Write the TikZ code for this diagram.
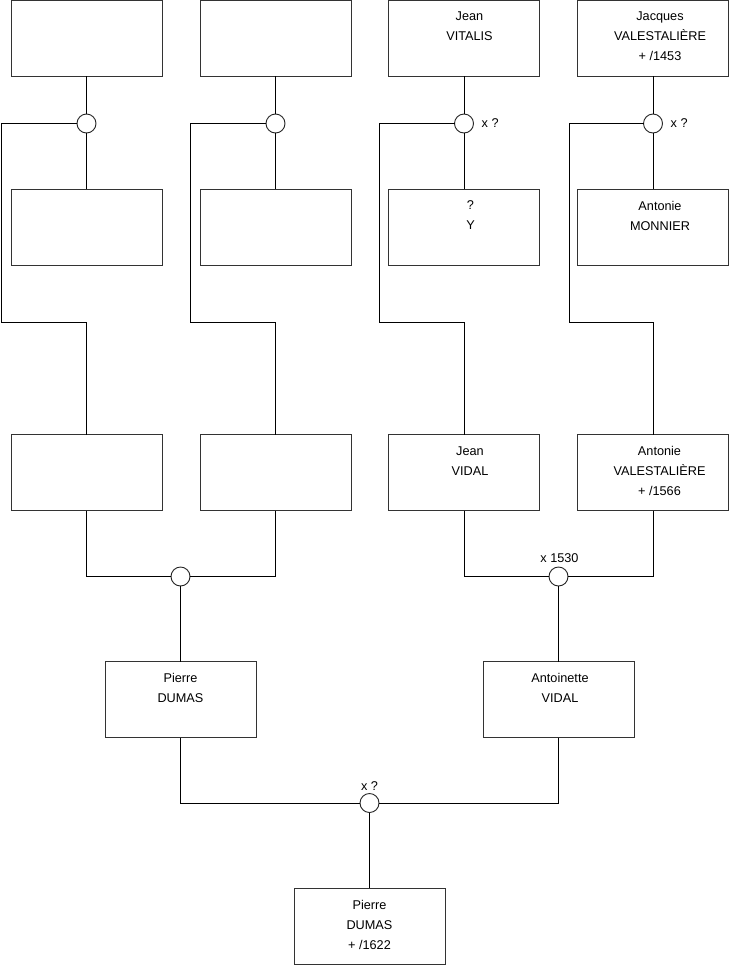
\documentclass[tikz,border=0pt]{standalone}
\usepackage{fontspec}
\setmainfont{Liberation Sans}
\begin{document}
\begin{tikzpicture}[x=1pt,y=-1pt,
  person/.style={draw=black!80,line width=0.9pt,fill=white,minimum width=151pt,minimum height=76pt,inner sep=0pt,outer sep=0pt},
  union/.style={circle,draw=black!85,line width=0.9pt,fill=white,minimum size=19pt,inner sep=0pt,outer sep=0pt},
  txt/.style={inner sep=0pt,align=center,anchor=north,font=\fontsize{12.7}{20}\selectfont},
  lab/.style={inner sep=0pt,font=\fontsize{12.7}{15}\selectfont},
  link/.style={draw=black,line width=0.9pt}]
\fill[white] (0,0) rectangle (740,975);
\useasboundingbox (0,0) rectangle (740,975);
% row 1
\node[person] (a1) at (86.5,38) {};
\node[person] (a2) at (275.5,38) {};
\node[person] (a3) at (464,38) {};
\node[person] (a4) at (653,38) {};
% row 2
\node[person] (b1) at (86.5,227) {};
\node[person] (b2) at (275.5,227) {};
\node[person] (b3) at (464,227) {};
\node[person] (b4) at (653,227) {};
% row 3
\node[person] (d1) at (86.5,472.5) {};
\node[person] (d2) at (275.5,472.5) {};
\node[person] (d3) at (464,472.5) {};
\node[person] (d4) at (653,472.5) {};
% row 4
\node[person] (e1) at (180.5,699.5) {};
\node[person] (e2) at (558.5,699.5) {};
% final
\node[person] (f1) at (369.5,926) {};
% union circles
\node[union] (u1) at (86.5,123.5) {};
\node[union] (u2) at (275.5,123.5) {};
\node[union] (u3) at (464,123.5) {};
\node[union] (u4) at (653,123.5) {};
\node[union] (u5) at (180.5,576.5) {};
\node[union] (u6) at (558.5,576.5) {};
\node[union] (u7) at (369.5,803) {};
% routing corners
\coordinate (k1) at (1.5,322);
\coordinate (k2) at (190.5,322);
\coordinate (k3) at (379,322);
\coordinate (k4) at (569,322);
% connectors top
\foreach \i in {1,2,3,4}{
  \draw[link] (a\i.south) -- (u\i.north);
  \draw[link] (u\i.south) -- (b\i.north);
  \draw[link] (u\i.west) -- (u\i.west -| k\i) -- (k\i) -- (k\i -| d\i.north) -- (d\i.north);
}
% row 3 to row 4
\draw[link] (d1.south) -- (d1.south |- u5) -- (u5.west);
\draw[link] (d2.south) -- (d2.south |- u5) -- (u5.east);
\draw[link] (u5.south) -- (e1.north);
\draw[link] (d3.south) -- (d3.south |- u6) -- (u6.west);
\draw[link] (d4.south) -- (d4.south |- u6) -- (u6.east);
\draw[link] (u6.south) -- (e2.north);
% row 4 to final
\draw[link] (e1.south) -- (e1.south |- u7) -- (u7.west);
\draw[link] (e2.south) -- (e2.south |- u7) -- (u7.east);
\draw[link] (u7.south) -- (f1.north);
% texts
\node[txt] (ta3) at ([xshift=5.5pt,yshift=-11.7pt]a3.north) {Jean\\VITALIS};
\node[txt] (ta4) at ([xshift=7pt,yshift=-11.7pt]a4.north) {Jacques\\VALESTALIÈRE\\+ /1453};
\node[txt] (tb3) at ([xshift=6.5pt,yshift=-11.7pt]b3.north) {?\\Y};
\node[txt] (tb4) at ([xshift=7pt,yshift=-11.7pt]b4.north) {Antonie\\MONNIER};
\node[txt] (td3) at ([xshift=6pt,yshift=-11.7pt]d3.north) {Jean\\VIDAL};
\node[txt] (td4) at ([xshift=6.5pt,yshift=-11.7pt]d4.north) {Antonie\\VALESTALIÈRE\\+ /1566};
\node[txt] (te1) at ([yshift=-11.7pt]e1.north) {Pierre\\DUMAS};
\node[txt] (te2) at ([xshift=1.5pt,yshift=-11.7pt]e2.north) {Antoinette\\VIDAL};
\node[txt] (tf1) at ([yshift=-11.7pt]f1.north) {Pierre\\DUMAS\\+ /1622};
% union labels
\node[lab,anchor=west] (l3) at ([xshift=8pt]u3.east) {x ?};
\node[lab,anchor=west] (l4) at ([xshift=8pt]u4.east) {x ?};
\node[lab,anchor=base] (l6) at ([xshift=1pt,yshift=4.5pt]u6.north) {x 1530};
\node[lab,anchor=base] (l7) at ([yshift=3.5pt]u7.north) {x ?};
\end{tikzpicture}
\end{document}
